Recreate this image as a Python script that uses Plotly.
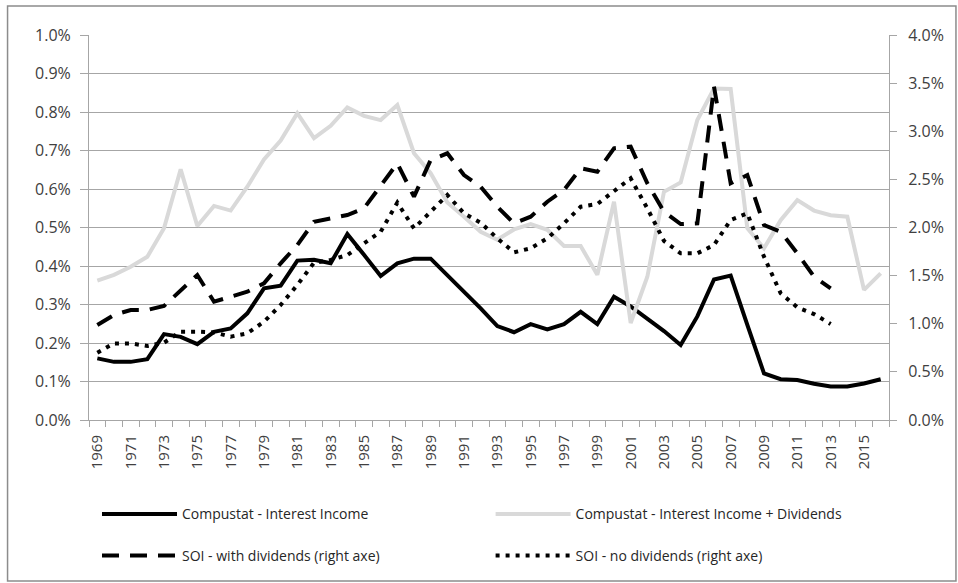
import plotly.graph_objects as go

years = list(range(1969, 2017))
soi_years = list(range(1969, 2014))

interest_income = [0.160, 0.151, 0.151, 0.158, 0.223, 0.216, 0.197, 0.229, 0.238, 0.277,
                   0.342, 0.349, 0.414, 0.416, 0.407, 0.483, 0.429, 0.374, 0.407, 0.419,
                   0.419, 0.377, 0.333, 0.290, 0.244, 0.228, 0.249, 0.235, 0.249, 0.281,
                   0.249, 0.320, 0.295, 0.263, 0.231, 0.195, 0.269, 0.365, 0.375, 0.247,
                   0.121, 0.106, 0.104, 0.094, 0.087, 0.087, 0.095, 0.106]

interest_plus_div = [0.362, 0.377, 0.398, 0.424, 0.498, 0.651, 0.504, 0.556, 0.544, 0.606,
                     0.677, 0.726, 0.797, 0.732, 0.764, 0.812, 0.790, 0.779, 0.818, 0.693,
                     0.641, 0.565, 0.528, 0.489, 0.468, 0.495, 0.509, 0.494, 0.452, 0.452,
                     0.377, 0.567, 0.252, 0.372, 0.593, 0.617, 0.779, 0.861, 0.860, 0.498,
                     0.446, 0.519, 0.571, 0.544, 0.532, 0.528, 0.338, 0.381]

soi_with_div = [0.987, 1.091, 1.143, 1.143, 1.185, 1.351, 1.506, 1.229, 1.281, 1.333,
                1.420, 1.628, 1.818, 2.060, 2.095, 2.130, 2.200, 2.442, 2.667, 2.320,
                2.701, 2.771, 2.545, 2.424, 2.216, 2.043, 2.112, 2.268, 2.390, 2.615,
                2.580, 2.823, 2.840, 2.459, 2.164, 2.036, 2.043, 3.463, 2.459, 2.545,
                2.026, 1.956, 1.732, 1.489, 1.368]

soi_no_div = [0.700, 0.796, 0.796, 0.769, 0.803, 0.918, 0.918, 0.910, 0.866, 0.900,
              1.021, 1.195, 1.403, 1.634, 1.662, 1.714, 1.836, 1.956, 2.258, 1.991,
              2.164, 2.338, 2.147, 2.050, 1.887, 1.742, 1.784, 1.887, 2.043, 2.216,
              2.244, 2.382, 2.511, 2.199, 1.860, 1.732, 1.732, 1.818, 2.078, 2.147,
              1.697, 1.316, 1.171, 1.101, 0.997]

label_years = list(range(1969, 2017, 2))

FONT = "Open Sans, Noto Sans, sans-serif"
TXT = "#404040"
GRID = "#a6a6a6"

fig = go.Figure()
fig.add_trace(go.Scatter(x=years, y=interest_income, mode="lines",
                         name="Compustat - Interest Income", showlegend=True,
                         line=dict(color="black", width=4), legend="legend"))
fig.add_trace(go.Scatter(x=years, y=interest_plus_div, mode="lines",
                         name="Compustat - Interest Income + Dividends", showlegend=True,
                         line=dict(color="#d9d9d9", width=4), legend="legend2"))
fig.add_trace(go.Scatter(x=soi_years, y=soi_with_div, mode="lines",
                         name="SOI - with dividends (right axe)", showlegend=True,
                         line=dict(color="black", width=4, dash="17px,11px"),
                         yaxis="y2", legend="legend3"))
fig.add_trace(go.Scatter(x=soi_years, y=soi_no_div, mode="lines",
                         name="SOI - no dividends (right axe)", showlegend=True,
                         line=dict(color="black", width=4, dash="4px,6px"),
                         yaxis="y2", legend="legend4"))

legend_common = dict(orientation="h", xanchor="left", yanchor="middle",
                     font=dict(family=FONT, size=14, color="#262626"),
                     itemwidth=75, visible=True,
                     bgcolor="rgba(0,0,0,0)", itemclick=False, itemdoubleclick=False)

COL1, COL2 = 0.010, 0.502
ROW1, ROW2 = -0.245, -0.353

fig.update_layout(
    width=958, height=583, showlegend=True,
    margin=dict(l=88.5, r=69, t=35, b=163, autoexpand=False),
    paper_bgcolor="white", plot_bgcolor="white",
    font=dict(family=FONT, color=TXT),
    xaxis=dict(range=[1968.5, 2016.5], tickmode="array", tickvals=label_years,
               ticktext=[str(y) for y in label_years], tickangle=-90,
               ticks="", showgrid=False, zeroline=False, automargin=False,
               showline=True, linecolor=GRID, linewidth=1,
               tickfont=dict(family=FONT, size=15, color=TXT),
               ticklabelstandoff=8,
               minor=dict(ticks="outside", ticklen=6, tickcolor=GRID, tick0=1968.5,
                          dtick=1, showgrid=False)),
    yaxis=dict(range=[0, 1.0], dtick=0.1, tick0=0, tickformat=".1f", ticksuffix="%",
               showgrid=True, gridcolor=GRID, gridwidth=1, zeroline=False,
               automargin=False,
               showline=True, linecolor=GRID, ticks="outside", ticklen=8,
               tickcolor=GRID, tickfont=dict(family=FONT, size=16, color=TXT),
               ticklabelstandoff=6),
    yaxis2=dict(range=[0, 4.0], dtick=0.5, tick0=0, tickformat=".1f", ticksuffix="%",
                overlaying="y", side="right", showgrid=False, zeroline=False,
                automargin=False,
                showline=True, linecolor=GRID, ticks="outside", ticklen=7,
                tickcolor=GRID, tickfont=dict(family=FONT, size=16, color=TXT),
                ticklabelstandoff=8),
    legend=dict(x=COL1, y=ROW1, **legend_common),
    legend2=dict(x=COL2, y=ROW1, **legend_common),
    legend3=dict(x=COL1, y=ROW2, **legend_common),
    legend4=dict(x=COL2, y=ROW2, **legend_common),
    shapes=[dict(type="rect", xref="paper", yref="paper",
                 x0=(7 - 88.5) / 800.5, x1=(956 - 88.5) / 800.5,
                 y0=(420 - 581) / 385, y1=(420 - 6) / 385,
                 line=dict(color="#8c8c8c", width=1.5), fillcolor="rgba(0,0,0,0)",
                 layer="below")],
)

fig.write_html("out.html", config={"displayModeBar": False},
               post_script="document.body.style.margin='0';")
